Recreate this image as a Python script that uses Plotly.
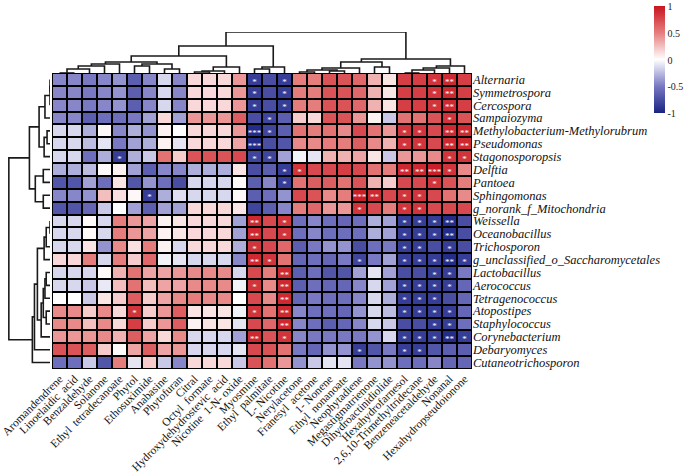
import plotly.graph_objects as go

ROWS = ["Alternaria", "Symmetrospora", "Cercospora", "Sampaiozyma",
        "Methylobacterium-Methylorubrum", "Pseudomonas", "Stagonosporopsis",
        "Delftia", "Pantoea", "Sphingomonas", "g_norank_f_Mitochondria",
        "Weissella", "Oceanobacillus", "Trichosporon",
        "g_unclassified_o_Saccharomycetales", "Lactobacillus", "Aerococcus",
        "Tetragenococcus", "Atopostipes", "Staphylococcus", "Corynebacterium",
        "Debaryomyces", "Cutaneotrichosporon"]

COLS = ["Aromandendrene", "Linoelaidic  acid", "Benzaldehyde", "Solanone",
        "Ethyl  tetradecanoate", "Phytol", "Ethosuximide", "Anabasine",
        "Phytofuran", "Citral", "Octyl  formate", "Hydroxydehydrostevic  acid",
        "Nicotine  1-N- oxide", "Myosmine", "Ethyl  palmitate", "L- Nicotine",
        "Nerylacetone", "Franesyl  acetone", "1- Nonene", "Ethyl  nonanoate",
        "Neophytadiene", "Megastigmatrienone", "Dihydroactinidiolide",
        "Hexahydrofarnesol", "2,6,10-Trimethyltridecane", "Benzeneacetaldehyde",
        "Nonanal", "Hexahydropseudoionone"]

VALUES = [
    [-0.45,-0.45,-0.5,-0.45,-0.4,-0.65,-0.45,-0.15,-0.45,0.15, 0.15,0.15,0.4,-0.85,-0.75,-0.85,0.5,0.5,0.7,0.7, 0.6,0.3,0.1,0.8,0.8,0.85,0.9,0.8],
    [-0.45,-0.45,-0.5,-0.45,-0.4,-0.65,-0.45,-0.15,-0.45,0.15, 0.15,0.15,0.4,-0.85,-0.75,-0.85,0.5,0.5,0.7,0.7, 0.6,0.3,0.1,0.8,0.8,0.85,0.9,0.8],
    [-0.45,-0.45,-0.5,-0.45,-0.4,-0.65,-0.45,-0.15,-0.45,0.15, 0.15,0.15,0.4,-0.85,-0.75,-0.85,0.5,0.5,0.7,0.7, 0.6,0.3,0.1,0.8,0.8,0.85,0.9,0.8],
    [-0.45,-0.45,-0.65,-0.55,-0.55,-0.5,-0.35,0.15,-0.35,0.4, 0.4,0.4,0.65,-0.75,-0.8,-0.65,0.2,0.15,0.7,0.7, 0.4,0.05,-0.2,0.55,0.55,0.7,0.85,0.7],
    [-0.15,-0.15,-0.3,0.03,-0.45,-0.3,-0.4,0.05,0.0,0.15, 0.15,0.15,0.4,-0.95,-0.8,-0.65,0.55,0.5,0.55,0.45, 0.75,0.55,0.4,0.85,0.85,0.75,0.9,0.9],
    [-0.15,-0.15,-0.25,-0.1,-0.5,-0.35,-0.3,0.05,-0.1,0.15, 0.15,0.15,0.35,-0.95,-0.75,-0.7,0.45,0.45,0.5,0.5, 0.65,0.45,0.3,0.85,0.85,0.75,0.9,0.9],
    [-0.15,-0.15,-0.55,-0.3,-0.85,-0.3,-0.2,0.55,0.2,0.7, 0.7,0.7,0.75,-0.8,-0.8,-0.35,-0.05,-0.1,0.3,0.3, 0.35,0.1,-0.2,0.4,0.4,0.45,0.85,0.85],
    [-0.3,-0.3,-0.25,0.02,0.05,-0.35,-0.65,-0.45,-0.45,-0.3, -0.3,-0.3,0.1,-0.75,-0.65,-0.85,0.85,0.75,0.75,0.8, 0.75,0.55,0.5,0.9,0.9,0.95,0.85,0.45],
    [-0.7,-0.7,-0.35,-0.55,0.1,-0.7,-0.4,-0.55,-0.75,-0.15, -0.15,-0.15,0.02,-0.65,-0.45,-0.85,0.55,0.65,0.65,0.55, 0.7,0.3,0.2,0.75,0.75,0.85,0.7,0.5],
    [-0.45,-0.45,-0.4,0.25,0.12,0.03,-0.85,-0.3,-0.12,-0.15, -0.15,-0.15,0.02,-0.65,-0.55,-0.4,0.75,0.7,0.45,0.5, 0.95,0.9,0.75,0.85,0.85,0.75,0.55,0.45],
    [-0.7,-0.7,-0.6,-0.2,0.0,-0.35,-0.65,-0.35,-0.35,0.15, 0.15,0.15,0.1,-0.8,-0.65,-0.45,0.5,0.6,0.4,0.4, 0.85,0.75,0.5,0.85,0.85,0.75,0.75,0.75],
    [-0.15,-0.15,0.02,-0.15,0.5,0.4,0.35,0.05,0.1,0.15, 0.15,0.15,-0.35,0.9,0.75,0.85,-0.55,-0.45,-0.55,-0.6, -0.55,-0.3,-0.35,-0.85,-0.85,-0.85,-0.95,-0.75],
    [-0.15,-0.15,0.02,-0.15,0.5,0.4,0.35,0.05,0.1,0.15, 0.15,0.15,-0.35,0.9,0.75,0.85,-0.55,-0.45,-0.55,-0.55, -0.55,-0.3,-0.35,-0.85,-0.85,-0.85,-0.95,-0.75],
    [-0.15,-0.15,0.1,-0.4,0.45,0.12,0.5,0.05,-0.15,0.15, 0.15,0.15,-0.3,0.85,0.75,0.6,-0.65,-0.5,-0.4,-0.4, -0.75,-0.55,-0.5,-0.85,-0.85,-0.75,-0.85,-0.75],
    [0.15,0.15,0.5,-0.15,0.5,0.2,0.6,-0.05,-0.1,-0.15, -0.15,-0.15,-0.45,0.9,0.85,0.55,-0.6,-0.55,-0.6,-0.5, -0.8,-0.5,-0.35,-0.85,-0.85,-0.85,-0.95,-0.85],
    [-0.15,-0.15,-0.15,0.02,0.3,0.55,0.35,0.35,0.4,0.45, 0.45,0.45,-0.15,0.75,0.5,0.9,-0.65,-0.55,-0.7,-0.7, -0.35,-0.1,-0.35,-0.75,-0.75,-0.85,-0.85,-0.5],
    [-0.15,-0.15,-0.2,-0.08,0.25,0.55,0.25,0.35,0.35,0.45, 0.45,0.45,-0.05,0.85,0.45,0.9,-0.65,-0.55,-0.6,-0.6, -0.45,-0.15,-0.35,-0.85,-0.85,-0.85,-0.85,-0.6],
    [0.0,0.0,-0.2,0.1,0.2,0.65,0.2,0.35,0.45,0.5, 0.45,0.45,0.0,0.75,0.45,0.9,-0.6,-0.5,-0.55,-0.55, -0.45,-0.15,-0.3,-0.85,-0.85,-0.85,-0.75,-0.6],
    [0.45,0.45,0.2,0.45,0.15,0.85,0.2,0.4,0.65,0.1, 0.1,0.1,-0.05,0.85,0.55,0.9,-0.45,-0.55,-0.55,-0.6, -0.4,-0.15,-0.25,-0.85,-0.85,-0.85,-0.85,-0.6],
    [0.45,0.45,0.25,0.45,0.15,0.8,0.2,0.4,0.65,0.05, 0.1,0.1,-0.1,0.75,0.6,0.9,-0.45,-0.55,-0.65,-0.6, -0.45,-0.15,-0.2,-0.75,-0.75,-0.85,-0.85,-0.55],
    [0.4,0.4,0.4,0.45,0.3,0.65,0.35,0.15,0.45,-0.15, -0.15,-0.15,-0.35,0.9,0.7,0.85,-0.45,-0.5,-0.5,-0.5, -0.5,-0.4,-0.15,-0.85,-0.85,-0.85,-0.95,-0.85],
    [0.7,0.7,0.65,0.2,0.02,0.35,0.65,0.35,0.4,-0.15, -0.15,-0.15,-0.1,0.75,0.7,0.55,-0.5,-0.6,-0.4,-0.4, -0.85,-0.7,-0.5,-0.85,-0.85,-0.7,-0.65,-0.65],
    [-0.55,-0.55,-0.2,-0.7,0.5,-0.1,0.2,-0.2,-0.45,0.15, 0.15,0.15,-0.2,0.7,0.55,0.4,-0.4,-0.2,-0.1,-0.1, -0.5,-0.4,-0.4,-0.55,-0.55,-0.45,-0.6,-0.6],
]

# significance marks: {column index: number of asterisks}, one dict per row
STARS = [
    {13: 1, 15: 1, 25: 1, 26: 2},
    {13: 1, 15: 1, 25: 1, 26: 2},
    {13: 1, 15: 1, 25: 1, 26: 2},
    {14: 1, 26: 1},
    {13: 3, 14: 1, 23: 1, 24: 1, 26: 2, 27: 2},
    {13: 3, 23: 1, 24: 1, 26: 2, 27: 2},
    {4: 1, 13: 1, 14: 1, 26: 1, 27: 1},
    {15: 1, 16: 1, 23: 2, 24: 2, 25: 3, 26: 1},
    {15: 1, 25: 1},
    {6: 1, 20: 3, 21: 2, 23: 1, 24: 1},
    {20: 1, 23: 1, 24: 1},
    {13: 2, 15: 1, 23: 1, 24: 1, 25: 1, 26: 2},
    {13: 2, 15: 1, 23: 1, 24: 1, 25: 1, 26: 2},
    {13: 1, 23: 1, 24: 1, 26: 1},
    {13: 2, 14: 1, 20: 1, 23: 1, 24: 1, 25: 1, 26: 2, 27: 1},
    {15: 2, 25: 1, 26: 1},
    {13: 1, 15: 2, 23: 1, 24: 1, 25: 1, 26: 1},
    {15: 2, 23: 1, 24: 1, 25: 1},
    {5: 1, 13: 1, 15: 2, 23: 1, 24: 1, 25: 1, 26: 1},
    {15: 2, 25: 1, 26: 1},
    {13: 2, 15: 1, 23: 1, 24: 1, 25: 1, 26: 2, 27: 1},
    {20: 1, 23: 1, 24: 1},
    {},
]

# dendrogram merges: (child a, child b, height 0..1); leaves are 0..n-1,
# merge k creates node n+k
COL_MERGES = [
    (0, 1, 0.0), (28, 2, 0.098), (29, 3, 0.171), (5, 6, 0.171),
    (7, 8, 0.098), (31, 32, 0.22), (30, 4, 0.22), (34, 33, 0.268),
    (9, 10, 0.024), (36, 11, 0.049), (37, 12, 0.146), (35, 38, 0.415),
    (13, 14, 0.098), (40, 15, 0.146), (39, 41, 0.659),
    (16, 17, 0.024), (18, 19, 0.049), (43, 44, 0.073), (45, 20, 0.122),
    (21, 22, 0.146), (46, 47, 0.268),
    (23, 24, 0.0), (49, 25, 0.073), (50, 26, 0.122), (51, 27, 0.171),
    (48, 52, 0.341), (42, 53, 1.0),
]
ROW_MERGES = [
    (0, 1, 0.0), (23, 2, 0.0), (24, 3, 0.12), (4, 5, 0.07), (26, 6, 0.14),
    (25, 27, 0.26), (7, 8, 0.16), (9, 10, 0.16), (29, 30, 0.35),
    (28, 31, 0.49),
    (11, 12, 0.0), (33, 13, 0.09), (34, 14, 0.14), (15, 16, 0.09),
    (36, 17, 0.12), (18, 19, 0.09), (37, 38, 0.16), (39, 20, 0.21),
    (35, 40, 0.30), (41, 21, 0.37), (42, 22, 0.42), (32, 43, 0.98),
]

W, H = 685, 475
HX0, HX1 = 52, 472
HY0, HY1 = 73, 369
SERIF = "Liberation Serif, Times New Roman, serif"


def fx(x):
    return x / W


def fy(y):
    return 1 - y / H


def dendro(n, merges):
    pos = {i: float(i) for i in range(n)}
    hgt = {i: 0.0 for i in range(n)}
    p, h = [], []
    for k, (a, b, ht) in enumerate(merges):
        pa, pb = pos[a], pos[b]
        p += [pa, pa, pb, pb, None]
        h += [hgt[a], ht, ht, hgt[b], None]
        pos[n + k] = (pa + pb) / 2
        hgt[n + k] = ht
    return p, h


nr, nc = len(ROWS), len(COLS)

colorscale = [
    [0.0, "rgb(25,35,130)"],
    [0.25, "rgb(120,120,195)"],
    [0.5, "rgb(255,255,255)"],
    [0.75, "rgb(230,125,125)"],
    [1.0, "rgb(200,20,30)"],
]

fig = go.Figure()
fig.add_trace(go.Heatmap(
    z=VALUES, x=list(range(nc)), y=list(range(nr)), zmin=-1, zmax=1,
    colorscale=colorscale, xgap=2, ygap=2, hoverinfo="skip",
    colorbar=dict(x=fx(654), xanchor="left", y=fy(60), yanchor="middle",
                  len=107 / H, lenmode="fraction", thickness=11, xpad=0,
                  ypad=0, outlinewidth=0, ticks="", ticklen=0,
                  tickvals=[-1, -0.5, 0, 0.5, 1],
                  ticktext=["-1", "-0.5", "0", "0.5", "1"],
                  tickfont=dict(family=SERIF, size=10, color="#222")),
))

sx, sy, st = [], [], []
for r, d in enumerate(STARS):
    for c, k in d.items():
        sx.append(c)
        sy.append(r + 0.22)
        st.append("*" * k)
fig.add_trace(go.Scatter(x=sx, y=sy, text=st, mode="text",
                         textfont=dict(family=SERIF, size=9, color="white"),
                         hoverinfo="skip", showlegend=False))

cp, ch = dendro(nc, COL_MERGES)
fig.add_trace(go.Scatter(x=cp, y=ch, mode="lines", xaxis="x2", yaxis="y2",
                         line=dict(color="#1a1a1a", width=1.6),
                         hoverinfo="skip", showlegend=False))
rp, rh = dendro(nr, ROW_MERGES)
fig.add_trace(go.Scatter(x=rh, y=rp, mode="lines", xaxis="x3", yaxis="y3",
                         line=dict(color="#1a1a1a", width=1.6),
                         hoverinfo="skip", showlegend=False))

# black backing behind the cells gives the grid lines, plus an outer frame
fig.add_shape(type="rect", xref="x", yref="y", x0=-0.5, x1=nc - 0.5,
              y0=-0.5, y1=nr - 0.5, line=dict(width=0),
              fillcolor="black", layer="below")
fig.add_shape(type="rect", xref="x", yref="y", x0=-0.5, x1=nc - 0.5,
              y0=-0.5, y1=nr - 0.5, line=dict(color="black", width=2))

fig.update_layout(
    width=W, height=H, margin=dict(l=0, r=0, t=0, b=0),
    paper_bgcolor="white", plot_bgcolor="white", showlegend=False,
    font=dict(family=SERIF, color="#111"),
    xaxis=dict(domain=[fx(HX0), fx(HX1)], range=[-0.5, nc - 0.5],
               tickvals=list(range(nc)), ticktext=COLS, tickangle=-45,
               tickfont=dict(family=SERIF, size=11.5, color="#111"),
               showgrid=False, zeroline=False, ticks="", showline=False,
               automargin=False),
    yaxis=dict(domain=[fy(HY1), fy(HY0)], range=[nr - 0.5, -0.5],
               side="right", tickvals=list(range(nr)),
               ticktext=["<i>%s</i>" % s for s in ROWS],
               tickfont=dict(family=SERIF, size=12.5, color="#111"),
               showgrid=False, zeroline=False, ticks="", showline=False,
               automargin=False),
    xaxis2=dict(domain=[fx(HX0), fx(HX1)], range=[-0.5, nc - 0.5],
                anchor="y2", visible=False),
    yaxis2=dict(domain=[fy(HY0), fy(32)], range=[0, 1.0], anchor="x2",
                visible=False),
    xaxis3=dict(domain=[fx(8), fx(50)], range=[1.0, 0], anchor="y3",
                visible=False),
    yaxis3=dict(domain=[fy(HY1), fy(HY0)], range=[nr - 0.5, -0.5],
                anchor="x3", visible=False),
)
fig.write_html("out.html", config={"displayModeBar": False},
               post_script="document.body.style.margin='0';"
                           "document.body.style.overflow='hidden';")
